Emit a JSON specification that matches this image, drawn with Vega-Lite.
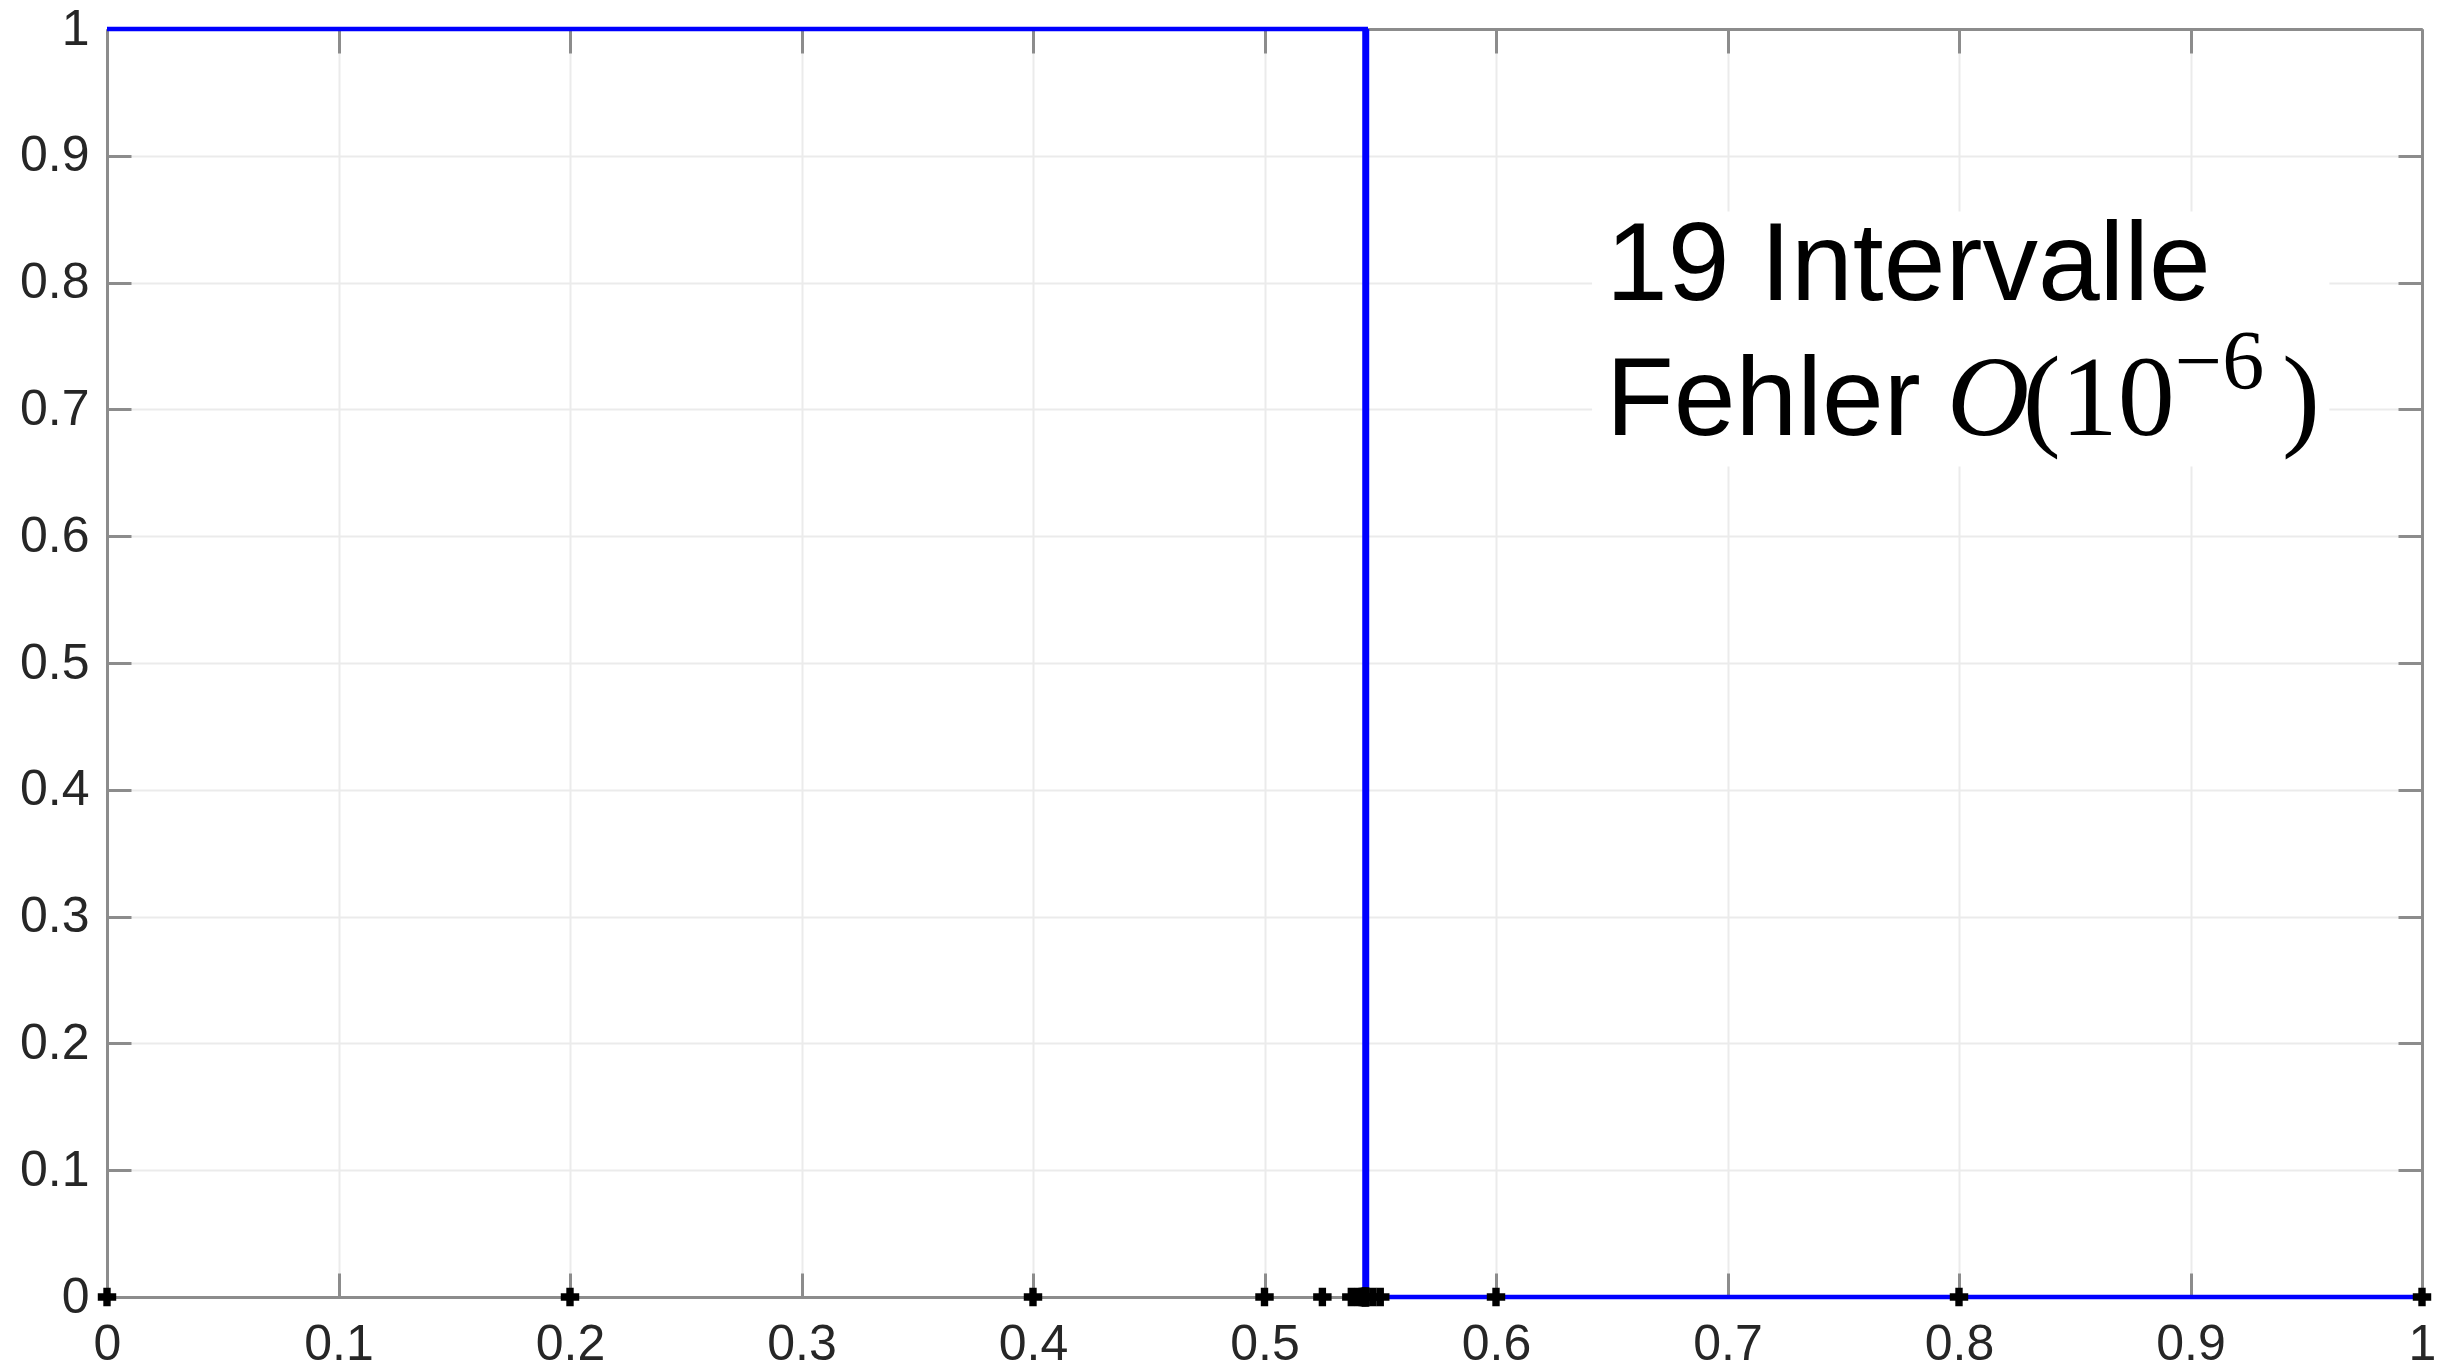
{
  "$schema": "https://vega.github.io/schema/vega-lite/v6.json",
  "autosize": "none",
  "width": 2315,
  "height": 1268,
  "padding": {"left": 107, "top": 29, "right": 30, "bottom": 72},
  "background": "white",
  "config": {
    "view": {"stroke": null},
    "axis": {
      "domainColor": "#8c8c8c",
      "domainWidth": 3,
      "tickColor": "#8c8c8c",
      "tickWidth": 3,
      "tickSize": -24,
      "labelFont": "Liberation Sans",
      "labelFontSize": 50,
      "labelColor": "#262626",
      "gridColor": "#ebebeb",
      "gridWidth": 2,
      "title": null
    }
  },
  "datasets": {
    "curve": [
      {"x": 0, "y": 1},
      {"x": 0.54373, "y": 1},
      {"x": 0.54373, "y": 0},
      {"x": 1, "y": 0}
    ],
    "jump": [{"x": 0.54373, "y0": 0, "y1": 1}],
    "nodes": [
      {"x": 0, "y": 0}, {"x": 0.2, "y": 0}, {"x": 0.4, "y": 0}, {"x": 0.5, "y": 0},
      {"x": 0.525, "y": 0}, {"x": 0.5375, "y": 0}, {"x": 0.540625, "y": 0},
      {"x": 0.5421875, "y": 0}, {"x": 0.54296875, "y": 0}, {"x": 0.543359375, "y": 0},
      {"x": 0.5435546875, "y": 0}, {"x": 0.54365234375, "y": 0}, {"x": 0.543701171875, "y": 0},
      {"x": 0.5437255859375, "y": 0}, {"x": 0.54375, "y": 0}, {"x": 0.546875, "y": 0},
      {"x": 0.55, "y": 0}, {"x": 0.6, "y": 0}, {"x": 0.8, "y": 0}, {"x": 1, "y": 0}
    ],
    "box": [{"x0": 0.6415, "x1": 0.96, "y0": 0.655, "y1": 0.856}],
    "sans": [
      {"label": "19 Intervalle", "x": 0.6475, "y": 0.786},
      {"label": "Fehler", "x": 0.6475, "y": 0.68}
    ],
    "serifItalic": [{"label": "O", "x": 0.7948, "y": 0.68}],
    "serif": [
      {"label": "(10", "x": 0.8275, "y": 0.68},
      {"label": ")", "x": 0.9395, "y": 0.68}
    ],
    "sup": [{"label": "−6", "x": 0.8932, "y": 0.716}]
  },
  "resolve": {"axis": {"x": "independent", "y": "independent"}},
  "layer": [
    {
      "data": {"name": "box"},
      "mark": {"type": "rect", "color": "white"},
      "encoding": {
        "x": {"field": "x0", "type": "quantitative", "scale": {"domain": [0, 1], "nice": false, "zero": false},
              "axis": {"orient": "top", "labels": false, "grid": false, "values": [0,0.1,0.2,0.3,0.4,0.5,0.6,0.7,0.8,0.9,1]}},
        "x2": {"field": "x1"},
        "y": {"field": "y0", "type": "quantitative", "scale": {"domain": [0, 1], "nice": false, "zero": false},
              "axis": {"orient": "right", "labels": false, "grid": false, "values": [0,0.1,0.2,0.3,0.4,0.5,0.6,0.7,0.8,0.9,1]}},
        "y2": {"field": "y1"}
      }
    },
    {
      "data": {"name": "curve"},
      "mark": {"type": "line", "color": "#0000ff", "strokeWidth": 4.5},
      "encoding": {
        "x": {"field": "x", "type": "quantitative",
              "axis": {"orient": "bottom", "grid": true, "values": [0,0.1,0.2,0.3,0.4,0.5,0.6,0.7,0.8,0.9,1], "format": ".1~f", "labelPadding": 46, "labelFlush": false}},
        "y": {"field": "y", "type": "quantitative",
              "axis": {"orient": "left", "grid": true, "values": [0,0.1,0.2,0.3,0.4,0.5,0.6,0.7,0.8,0.9,1], "format": ".1~f", "labelPadding": 42, "labelFlush": false}}
      }
    },
    {
      "data": {"name": "jump"},
      "mark": {"type": "rule", "color": "#0000ff", "strokeWidth": 7},
      "encoding": {
        "x": {"field": "x", "type": "quantitative", "axis": null},
        "y": {"field": "y0", "type": "quantitative", "axis": null},
        "y2": {"field": "y1"}
      }
    },
    {
      "data": {"name": "nodes"},
      "mark": {"type": "point", "shape": "cross", "filled": true, "color": "black", "size": 340, "opacity": 1},
      "encoding": {
        "x": {"field": "x", "type": "quantitative", "axis": null},
        "y": {"field": "y", "type": "quantitative", "axis": null}
      }
    },
    {
      "data": {"name": "sans"},
      "mark": {"type": "text", "font": "Liberation Sans", "fontSize": 111, "align": "left", "baseline": "alphabetic", "color": "black"},
      "encoding": {
        "x": {"field": "x", "type": "quantitative", "axis": null},
        "y": {"field": "y", "type": "quantitative", "axis": null},
        "text": {"field": "label"}
      }
    },
    {
      "data": {"name": "serifItalic"},
      "mark": {"type": "text", "font": "Liberation Serif", "fontStyle": "italic", "fontSize": 114, "align": "left", "baseline": "alphabetic", "color": "black"},
      "encoding": {
        "x": {"field": "x", "type": "quantitative", "axis": null},
        "y": {"field": "y", "type": "quantitative", "axis": null},
        "text": {"field": "label"}
      }
    },
    {
      "data": {"name": "serif"},
      "mark": {"type": "text", "font": "Liberation Serif", "fontSize": 114, "align": "left", "baseline": "alphabetic", "color": "black"},
      "encoding": {
        "x": {"field": "x", "type": "quantitative", "axis": null},
        "y": {"field": "y", "type": "quantitative", "axis": null},
        "text": {"field": "label"}
      }
    },
    {
      "data": {"name": "sup"},
      "mark": {"type": "text", "font": "Liberation Serif", "fontSize": 84, "align": "left", "baseline": "alphabetic", "color": "black"},
      "encoding": {
        "x": {"field": "x", "type": "quantitative", "axis": null},
        "y": {"field": "y", "type": "quantitative", "axis": null},
        "text": {"field": "label"}
      }
    }
  ]
}
